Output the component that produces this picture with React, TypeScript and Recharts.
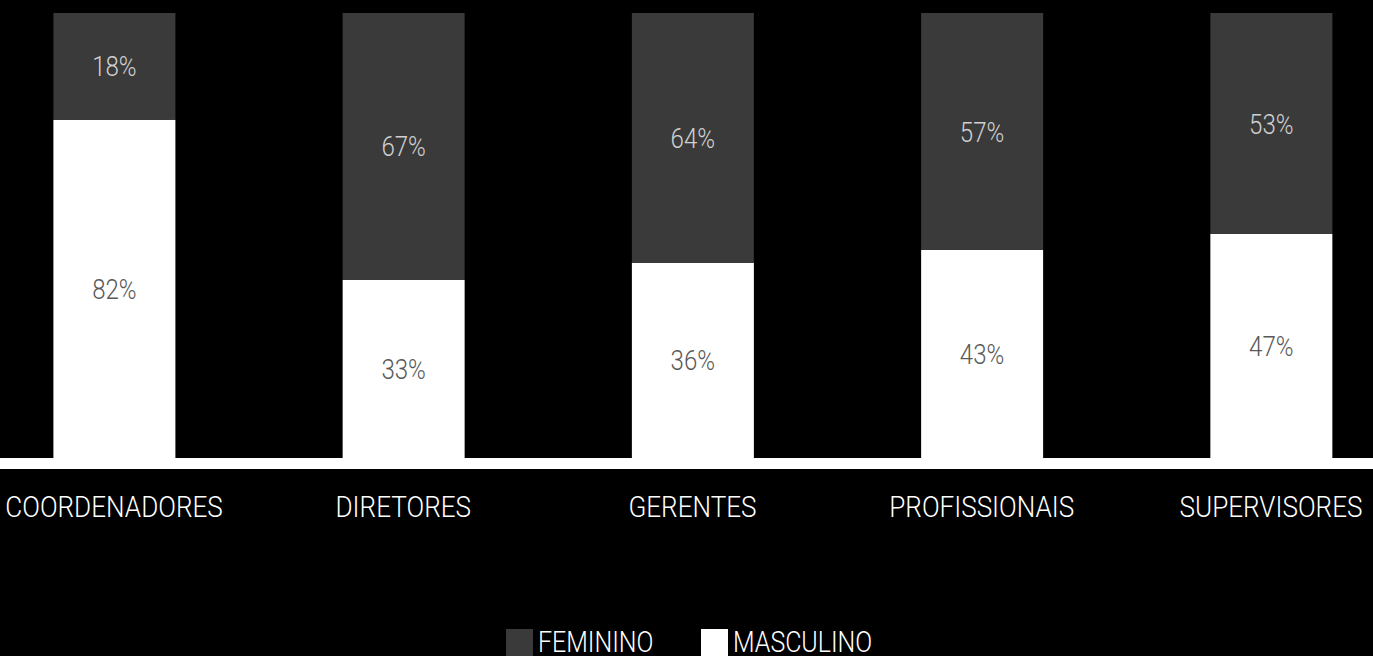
import { BarChart, Bar, XAxis, YAxis, LabelList, Legend, ReferenceArea } from "recharts";

// categorias e valores
const categorias = ["COORDENADORES", "DIRETORES", "GERENTES", "PROFISSIONAIS", "SUPERVISORES"];
// altura visível de cada segmento (% da barra)
const femininoAltura = [24, 60, 56.2, 53.3, 49.7];
const masculinoAltura = [76, 40, 43.8, 46.7, 50.3];
// rótulos impressos nas barras
const femininoRotulo = ["18%", "67%", "64%", "57%", "53%"];
const masculinoRotulo = ["82%", "33%", "36%", "43%", "47%"];

const FONT = "Roboto, 'Liberation Sans', sans-serif";
const ESCURO = "#3a3a3a";

const data = categorias.map((c, i) => ({
  categoria: c,
  feminino: femininoAltura[i],
  masculino: masculinoAltura[i],
}));

// texto estreito: Roboto Light comprimido na horizontal
const Narrow = ({ x, y, fill, size, sx, children }: any) => (
  <g transform={`translate(${x},${y}) scale(${sx},1)`}>
    <text x={0} y={0} textAnchor="middle" fill={fill} fontFamily={FONT} fontWeight={300} fontSize={size}>
      {children}
    </text>
  </g>
);

const renderLabel = (rotulos: string[], cor: string) => (props: any) => {
  const { x, y, width, height, index } = props;
  return (
    <Narrow x={x + width / 2} y={y + height / 2 + 10} fill={cor} size={28} sx={0.86}>
      {rotulos[index]}
    </Narrow>
  );
};

const renderTick = (props: any) => {
  const { x, y, payload } = props;
  return (
    <Narrow x={x} y={y + 21} fill="#ffffff" size={29} sx={0.9}>
      {payload.value}
    </Narrow>
  );
};

const legendItems = [
  { nome: "FEMININO", cor: ESCURO },
  { nome: "MASCULINO", cor: "#ffffff" },
];

const renderLegend = () => (
  <div style={{ position: "relative", height: 27 }}>
    {legendItems.map((it, i) => (
      <div key={it.nome} style={{ position: "absolute", left: i === 0 ? 506 : 701, top: 0, display: "flex" }}>
        <span style={{ width: 27, height: 27, background: it.cor, display: "inline-block" }} />
        <span
          style={{
            color: "#ffffff",
            fontFamily: FONT,
            fontWeight: 300,
            fontSize: 29,
            lineHeight: "27px",
            marginLeft: 5,
            display: "inline-block",
            transform: "scaleX(0.86)",
            transformOrigin: "left center",
            whiteSpace: "nowrap",
          }}
        >
          {it.nome}
        </span>
      </div>
    ))}
  </div>
);

export default function App() {
  return (
    <div style={{ position: "absolute", top: 0, left: 0, width: 1373, height: 656, background: "#000", overflow: "hidden" }}>
      <BarChart width={1373} height={656} data={data} margin={{ top: 13, right: 0, bottom: 157, left: 11 }}>
        <YAxis hide domain={[-2.5, 100]} />
        <XAxis
          dataKey="categoria"
          axisLine={false}
          tickLine={false}
          tickSize={0}
          tickMargin={27}
          height={30}
          interval={0}
          padding={{ left: -41.6, right: -42.6 }}
          tick={renderTick}
        />
        <ReferenceArea y1={-2.5} y2={0} fill="#ffffff" fillOpacity={1} stroke="none" />
        <Bar dataKey="masculino" stackId="a" fill="#ffffff" barSize={122} isAnimationActive={false}>
          <LabelList dataKey="masculino" content={renderLabel(masculinoRotulo, "#595959")} />
        </Bar>
        <Bar dataKey="feminino" stackId="a" fill={ESCURO} barSize={122} isAnimationActive={false}>
          <LabelList dataKey="feminino" content={renderLabel(femininoRotulo, "#d0d0d0")} />
        </Bar>
        <Legend
          verticalAlign="middle"
          align="center"
          content={renderLegend}
          wrapperStyle={{ top: 629, left: 0, width: 1373 }}
        />
      </BarChart>
    </div>
  );
}
